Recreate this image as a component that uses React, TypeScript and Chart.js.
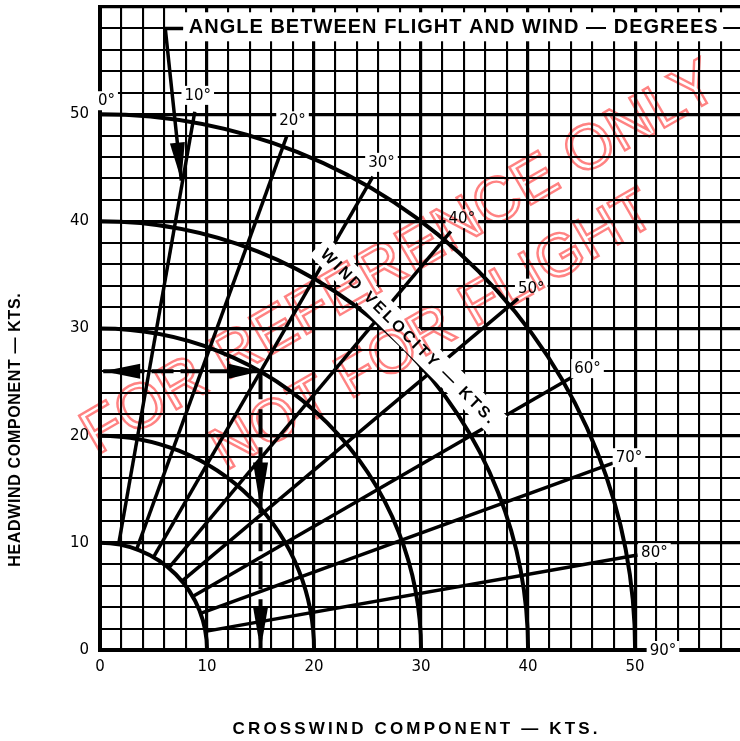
import { useEffect, useRef } from 'react';
import { Chart, registerables } from 'chart.js';

Chart.register(...registerables);

// ---- data ----
const xTickValues = [0, 10, 20, 30, 40, 50];
const yTickValues = [0, 10, 20, 30, 40, 50];
const windVelocities = [10, 20, 30, 40, 50]; // arcs, kts
const flightWindAngles = [10, 20, 30, 40, 50, 60, 70, 80]; // radial lines, degrees
const angleLabelValues = [0, 10, 20, 30, 40, 50, 60, 70, 80, 90];
const radialInner = 10;
const radialOuter = 51;
const labelRadius = 52.6;
// example: 30 kts wind at 30 deg -> headwind 26, crosswind 15
const exampleCrosswind = 15;
const exampleHeadwind = 26;
const exampleArcCross = 13.2;
const exampleAxisEnd = 0.3;
// pointer from the title down to the 10 deg line
const pointerX = [7.8, 6.1, 7.6];
const pointerY = [58.0, 58.0, 43.8];

const titleText = 'ANGLE BETWEEN FLIGHT AND WIND — DEGREES';
const xTitle = 'CROSSWIND COMPONENT — KTS.';
const yTitle = 'HEADWIND COMPONENT — KTS.';
const velocityText = 'WIND VELOCITY — KTS.';
const watermark1 = 'FOR REFERENCE ONLY';
const watermark2 = 'NOT FOR FLIGHT';

const FONT = '"Liberation Sans", Arial, sans-serif';
const TICKFONT = '"DejaVu Sans", sans-serif';
const rad = (d: number) => (d * Math.PI) / 180;
const polar = (r: number, deg: number) => ({ x: r * Math.sin(rad(deg)), y: r * Math.cos(rad(deg)) });

function fitSpacing(ctx: CanvasRenderingContext2D, text: string, font: string, target: number) {
  ctx.font = font;
  (ctx as any).letterSpacing = '0px';
  const w = ctx.measureText(text).width;
  const ls = (target - w) / text.length;
  (ctx as any).letterSpacing = `${ls}px`;
  return ls;
}

function arrowHead(ctx: CanvasRenderingContext2D, tx: number, ty: number, fx: number, fy: number, len: number, half: number) {
  const a = Math.atan2(ty - fy, tx - fx);
  const bx = tx - len * Math.cos(a);
  const by = ty - len * Math.sin(a);
  const nx = -Math.sin(a) * half;
  const ny = Math.cos(a) * half;
  ctx.beginPath();
  ctx.moveTo(tx, ty);
  ctx.lineTo(bx + nx, by + ny);
  ctx.lineTo(bx - nx, by - ny);
  ctx.closePath();
  ctx.fill();
}

const windPlugin = {
  id: 'windPlugin',
  beforeDraw(chart: any) {
    const ctx = chart.ctx as CanvasRenderingContext2D;
    ctx.save();
    ctx.fillStyle = '#fff';
    ctx.fillRect(0, 0, chart.width, chart.height);
    ctx.restore();
  },
  beforeDatasetsDraw(chart: any) {
    const ctx = chart.ctx as CanvasRenderingContext2D;
    const xs = chart.scales.x;
    const ys = chart.scales.y;
    const cx = xs.getPixelForValue(0);
    const cy = ys.getPixelForValue(0);
    ctx.save();
    ctx.strokeStyle = '#000';
    ctx.lineWidth = 4;
    windVelocities.forEach((r) => {
      const rx = xs.getPixelForValue(r) - cx;
      const ry = cy - ys.getPixelForValue(r);
      ctx.beginPath();
      ctx.ellipse(cx, cy, rx, ry, 0, -Math.PI / 2, 0);
      ctx.stroke();
    });
    ctx.restore();
  },
  afterDatasetsDraw(chart: any) {
    const ctx = chart.ctx as CanvasRenderingContext2D;
    const xs = chart.scales.x;
    const ys = chart.scales.y;
    const P = (x: number, y: number) => [xs.getPixelForValue(x), ys.getPixelForValue(y)];
    ctx.save();
    ctx.fillStyle = '#000';
    // arrowheads
    {
      const n = pointerX.length - 1;
      const [tx, ty] = P(pointerX[n], pointerY[n]);
      const [fx, fy] = P(pointerX[n - 1], pointerY[n - 1]);
      arrowHead(ctx, tx, ty, fx, fy, 38, 7.5);
      const [hx, hy] = P(exampleAxisEnd, exampleHeadwind);
      const [sx, sy] = P(exampleCrosswind, exampleHeadwind);
      arrowHead(ctx, hx, hy, sx, sy, 37, 7.5);
      arrowHead(ctx, sx, sy, hx, hy, 32, 7.5);
      const [mx, my] = P(exampleCrosswind, exampleArcCross);
      arrowHead(ctx, mx, my, sx, sy, 46, 7.5);
      const [bx, by] = P(exampleCrosswind, 0);
      arrowHead(ctx, bx, by, sx, sy, 43, 7.5);
    }
    // angle labels
    ctx.textAlign = 'center';
    ctx.textBaseline = 'middle';
    angleLabelValues.forEach((a) => {
      let p = polar(labelRadius, a);
      if (a === 0) p = { x: 0.6, y: 51.3 };
      const [lx, ly] = P(p.x, p.y);
      const t = `${a}°`;
      ctx.font = `15px ${TICKFONT}`;
      (ctx as any).letterSpacing = '0px';
      const w = ctx.measureText(t).width;
      ctx.fillStyle = '#fff';
      ctx.fillRect(lx - w / 2 - 3, ly - 9, w + 6, 19);
      ctx.fillStyle = '#000';
      ctx.fillText(t, lx, ly + 1);
    });
    // wind velocity band
    {
      const c = polar(41.1, 44.5);
      const [vx, vy] = P(c.x, c.y);
      ctx.save();
      ctx.translate(vx, vy);
      ctx.rotate(rad(45));
      const ls = fitSpacing(ctx, velocityText, `bold 16px ${FONT}`, 242);
      ctx.fillStyle = '#fff';
      ctx.fillRect(-127, -13, 254, 26);
      ctx.fillStyle = '#000';
      ctx.fillText(velocityText, ls / 2, 1);
      ctx.restore();
    }
    // title box
    {
      const [tx, ty] = P(33.0, 58.2);
      ctx.fillStyle = '#fff';
      ctx.fillRect(tx - 270, ty - 14, 540, 29);
      ctx.fillStyle = '#000';
      const ls = fitSpacing(ctx, titleText, `bold 20px ${FONT}`, 530);
      ctx.fillText(titleText, tx + ls / 2, ty + 1);
    }
    ctx.restore();
  },
  afterDraw(chart: any) {
    const ctx = chart.ctx as CanvasRenderingContext2D;
    const xs = chart.scales.x;
    const ys = chart.scales.y;
    const P = (x: number, y: number) => [xs.getPixelForValue(x), ys.getPixelForValue(y)];
    ctx.save();
    ctx.fillStyle = '#000';
    ctx.textAlign = 'center';
    ctx.textBaseline = 'middle';
    // axis titles
    {
      const ls = fitSpacing(ctx, xTitle, `bold 17px ${FONT}`, 368);
      ctx.fillText(xTitle, 415 + ls / 2, 729);
    }
    {
      ctx.save();
      ctx.translate(16, 430);
      ctx.rotate(-Math.PI / 2);
      const ls = fitSpacing(ctx, yTitle, `bold 16px ${FONT}`, 274);
      ctx.fillText(yTitle, ls / 2, 0);
      ctx.restore();
    }
    // watermark
    {
      ctx.globalCompositeOperation = 'multiply';
      ctx.strokeStyle = 'rgb(255,130,130)';
      ctx.lineWidth = 2.4;
      (ctx as any).letterSpacing = '0px';
      const [ax, ay] = P(28.1, 36.4);
      ctx.save();
      ctx.translate(ax, ay);
      ctx.rotate(rad(-30));
      ctx.font = `63px ${FONT}`;
      ctx.strokeText(watermark1, 0, 0);
      ctx.restore();
      const [bx, by] = P(31.2, 29.7);
      ctx.save();
      ctx.translate(bx, by);
      ctx.rotate(rad(-30));
      ctx.font = `60px ${FONT}`;
      ctx.strokeText(watermark2, 0, 0);
      ctx.restore();
    }
    ctx.restore();
  },
};

export default function App() {
  const ref = useRef<HTMLCanvasElement | null>(null);
  useEffect(() => {
    document.body.style.margin = '0';
    document.body.style.overflow = 'hidden';
    const canvas = ref.current!;
    const line = (pts: { x: number; y: number }[], width: number, dash: number[] = []) => ({
      data: pts,
      showLine: true,
      borderColor: '#000',
      backgroundColor: '#000',
      borderWidth: width,
      borderDash: dash,
      pointRadius: 0,
      borderCapStyle: 'butt',
    });
    const datasets: any[] = [];
    flightWindAngles.forEach((a) => {
      datasets.push(line([polar(radialInner, a), polar(radialOuter, a)], 3.5));
    });
    datasets.push(line(pointerX.map((x, i) => ({ x, y: pointerY[i] })), 3.5));
    datasets.push(
      line(
        [
          { x: exampleCrosswind, y: exampleHeadwind },
          { x: exampleAxisEnd, y: exampleHeadwind },
        ],
        4,
        [22, 7]
      )
    );
    datasets.push(
      line(
        [
          { x: exampleCrosswind, y: exampleHeadwind },
          { x: exampleCrosswind, y: 0 },
        ],
        4,
        [28, 10]
      )
    );
    const gridWidth = (c: any) => {
      const v = c.tick ? c.tick.value : 1;
      return v % 10 === 0 ? 3.2 : 2.1;
    };
    const noPad = (s: any) => {
      s.paddingTop = 0;
      s.paddingBottom = 0;
      s.paddingLeft = 0;
      s.paddingRight = 0;
    };
    const chart = new Chart(canvas, {
      type: 'scatter',
      data: { datasets },
      plugins: [windPlugin as any],
      options: {
        animation: false,
        responsive: false,
        maintainAspectRatio: false,
        layout: { padding: { top: 7, right: 0, left: 0, bottom: 0 } },
        plugins: { legend: { display: false }, tooltip: { enabled: false } },
        scales: {
          x: {
            type: 'linear',
            min: 0,
            max: 59.8,
            afterFit: (s: any) => {
              s.height = 91;
              noPad(s);
            },
            ticks: {
              stepSize: 2,
              includeBounds: false,
              autoSkip: false,
              maxRotation: 0,
              padding: 8,
              color: '#000',
              font: { family: TICKFONT, size: 15 },
              callback: (v: any) => (xTickValues.includes(Number(v)) ? String(v) : ''),
            },
            grid: { color: '#000', lineWidth: gridWidth, drawTicks: false },
            border: { display: true, color: '#000', width: 4 },
          },
          y: {
            type: 'linear',
            min: 0,
            max: 60,
            afterFit: (s: any) => {
              s.width = 100;
              noPad(s);
            },
            ticks: {
              stepSize: 2,
              autoSkip: false,
              padding: 11,
              color: '#000',
              font: { family: TICKFONT, size: 15 },
              callback: (v: any) => (yTickValues.includes(Number(v)) ? String(v) : ''),
            },
            grid: { color: '#000', lineWidth: gridWidth, drawTicks: false },
            border: { display: true, color: '#000', width: 4 },
          },
        },
      } as any,
    });
    return () => chart.destroy();
  }, []);
  return (
    <div style={{ width: 740, height: 741, position: 'relative' }}>
      <canvas ref={ref} width={740} height={741} style={{ display: 'block' }} />
    </div>
  );
}
